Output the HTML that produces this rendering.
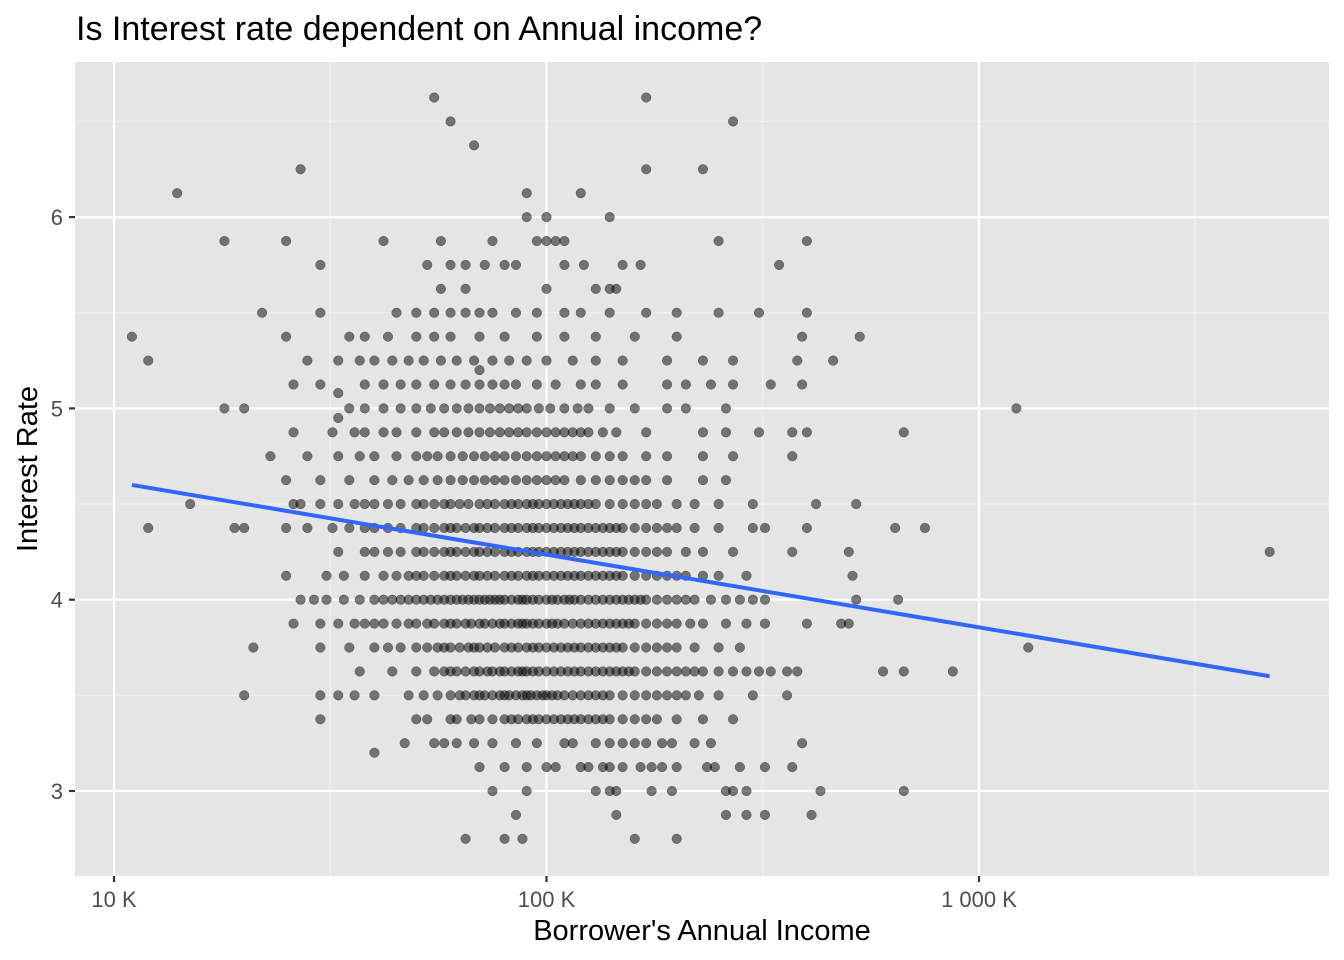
<!DOCTYPE html>
<html><head><meta charset="utf-8"><style>
html,body{margin:0;padding:0;background:#fff;}
svg{display:block;font-family:"Liberation Sans",Arial,sans-serif;}
</style></head><body>
<svg id="chart" width="1344" height="960">
<text x="76" y="40" font-size="34" fill="#000">Is Interest rate dependent on Annual income?</text>
<rect x="75" y="62" width="1254" height="814" fill="#e5e5e5"/>
<g id="grid"></g>
<g id="points"></g>
<g id="fit"></g>
<g id="axes"></g>
<text x="702" y="940" font-size="29" text-anchor="middle" fill="#000">Borrower's Annual Income</text>
<text transform="translate(37,469) rotate(-90)" font-size="29" text-anchor="middle" fill="#000">Interest Rate</text>
</svg>
<script>
const xTicks=[10,100,1000];
const xTickLabels=["10 K","100 K","1 000 K"];
const yTicks=[3,4,5,6];
const yTickLabels=["3","4","5","6"];
const levels=[2.75,2.875,3.0,3.125,3.25,3.375,3.5,3.625,3.75,3.875,4.0,4.125,4.25,4.375,4.5,4.625,4.75,4.875,5.0,5.125,5.25,5.375,5.5,5.625,5.75,5.875,6.0,6.125,6.25,6.375,6.5,6.625];
const incomes=[
[65,80,88,160,200],
[85,145,260,290,320,410],
[75,90,130,140,145,175,195,260,270,290,430,670],
[70,80,90,100,105,120,125,135,140,150,165,175,185,200,235,245,280,320,370],
[47,55,58,62,68,75,85,95,110,115,130,140,150,160,170,185,195,220,240,390],
[30,50,53,60,62,67,70,75,80,83,86,90,93,96,100,104,108,112,116,120,125,130,135,140,150,160,170,180,200,230,270],
[20,30,33,36,40,48,52,56,60,63,65,68,70,72,75,78,80,82,85,88,90,92,95,98,100,103,106,110,115,120,125,130,135,140,150,160,170,180,190,200,210,225,250,300,360],
[37,44,50,55,58,60,62,65,68,70,73,75,78,80,83,86,88,90,93,96,100,104,108,112,116,120,125,130,135,140,145,150,155,160,170,180,190,200,210,220,230,250,270,290,310,330,360,380,600,670,870],
[21,30,35,40,43,46,50,53,56,58,60,63,66,68,70,73,76,80,83,86,90,93,96,100,104,108,112,116,120,125,130,135,140,145,150,160,170,180,190,200,220,250,280,1300],
[26,30,33,36,38,40,42,45,48,50,53,55,58,60,62,65,67,70,72,75,78,80,83,86,88,90,93,96,100,103,106,110,115,120,125,130,135,140,145,150,155,160,170,180,190,200,215,230,260,290,320,400,480,500],
[27,29,31,34,37,40,42,44,46,48,50,52,54,56,58,60,62,64,66,68,70,72,74,76,78,80,83,86,88,90,93,96,100,103,106,110,113,116,120,125,130,135,140,145,150,155,160,165,170,180,190,200,210,220,240,260,280,300,320,520,650],
[25,31,34,38,42,45,48,50,52,55,58,60,62,65,68,70,73,76,80,83,86,90,93,96,100,104,108,112,116,120,125,130,135,140,145,150,160,170,180,190,200,210,230,250,290,510],
[33,38,40,43,46,50,52,55,58,60,62,65,68,70,73,76,80,83,86,90,93,96,100,104,108,112,116,120,125,130,135,140,145,150,160,170,180,190,210,230,270,370,500,4700],
[12,19,20,25,28,32,35,38,40,43,46,50,52,55,58,60,62,65,68,70,73,76,80,83,86,90,93,96,100,104,108,112,116,120,125,130,135,140,145,150,160,170,180,190,200,220,250,300,320,400,640,750],
[15,26,27,30,33,36,38,40,43,46,50,52,55,58,60,63,66,70,73,76,80,83,86,90,93,96,100,104,108,112,116,120,125,130,140,150,160,170,180,200,220,250,300,420,520],
[25,30,35,40,44,48,52,56,60,64,68,72,76,80,85,90,95,100,105,110,120,130,140,150,160,170,190,230,260],
[23,28,33,37,40,45,50,53,56,60,64,68,72,76,80,85,90,95,100,105,110,115,120,130,140,150,170,190,230,270,370],
[26,32,36,38,42,45,50,55,58,62,66,70,74,78,82,86,90,95,100,105,110,115,120,125,135,145,170,230,260,310,370,400,670],
[18,20,35,38,42,46,50,54,58,62,66,70,74,78,82,86,90,96,102,110,118,125,140,160,190,210,260,1220],
[26,30,38,42,46,50,55,60,65,70,75,80,85,95,105,120,130,150,190,210,240,270,330,390],
[12,28,33,37,40,44,48,52,57,62,68,75,82,90,100,115,130,150,190,230,270,380,460],
[11,25,35,38,43,50,55,60,70,80,95,110,130,160,200,390,530],
[22,30,45,50,55,60,65,70,75,85,95,110,120,140,170,200,250,310,400],
[57,65,100,130,140,145],
[30,53,60,65,72,80,85,110,122,150,165,345],
[18,25,42,57,75,95,100,105,110,250,400],
[90,100,140],
[14,90,120],
[27,170,230],
[68],
[60,270],
[55,170]
];
const extraX=[33,40,70,33];
const extraY=[4.95,3.2,5.2,5.08];
const lineX=[11,4700];
const lineY=[4.6,3.6];

const NS="http://www.w3.org/2000/svg";
function sx(v){return 114+(Math.log10(v)-1)*432.5;}
function sy(v){return 791-(v-3)*191.3;}
function mk(tag,attrs,parent){const e=document.createElementNS(NS,tag);for(const k in attrs)e.setAttribute(k,attrs[k]);parent.appendChild(e);return e;}
const grid=document.getElementById('grid'),pts=document.getElementById('points'),fit=document.getElementById('fit'),axes=document.getElementById('axes');
[1.5,2.5,3.5].forEach(l=>{const g=mk('line',{x1:sx(Math.pow(10,l)),x2:sx(Math.pow(10,l)),y1:62,y2:876,stroke:'#f2f2f2','stroke-width':1.1},grid);

});
[3.5,4.5,5.5,6.5].forEach(v=>{const g=mk('line',{x1:75,x2:1329,y1:sy(v),y2:sy(v),stroke:'#f2f2f2','stroke-width':1.1},grid);

});
xTicks.forEach((t,i)=>{const x=sx(t);
const g=mk('line',{x1:x,x2:x,y1:62,y2:876,stroke:'#fff','stroke-width':2.2},grid);


const tk=mk('line',{x1:x,x2:x,y1:876,y2:882,stroke:'#333','stroke-width':2.2},axes);


const tx=mk('text',{x:x,y:907,'font-size':22,'text-anchor':'middle',fill:'#4d4d4d'},axes);tx.textContent=xTickLabels[i];

});
yTicks.forEach((t,i)=>{const y=sy(t);
const g=mk('line',{x1:75,x2:1329,y1:y,y2:y,stroke:'#fff','stroke-width':2.2},grid);


const tk=mk('line',{x1:69,x2:75,y1:y,y2:y,stroke:'#333','stroke-width':2.2},axes);


const tx=mk('text',{x:63,y:y+8,'font-size':22,'text-anchor':'end',fill:'#4d4d4d'},axes);tx.textContent=yTickLabels[i];

});
function dot(x,y){const c=mk('circle',{cx:sx(x),cy:sy(y),r:4.8,fill:'#000','fill-opacity':0.5,stroke:'#000','stroke-opacity':0.5,'stroke-width':0.5},pts);

}
levels.forEach((lv,i)=>incomes[i].forEach(x=>dot(x,lv)));
extraX.forEach((x,i)=>dot(x,extraY[i]));
const ln=mk('line',{x1:sx(lineX[0]),y1:sy(lineY[0]),x2:sx(lineX[1]),y2:sy(lineY[1]),stroke:'#3366ff','stroke-width':4},fit);


</script>
</body></html>
